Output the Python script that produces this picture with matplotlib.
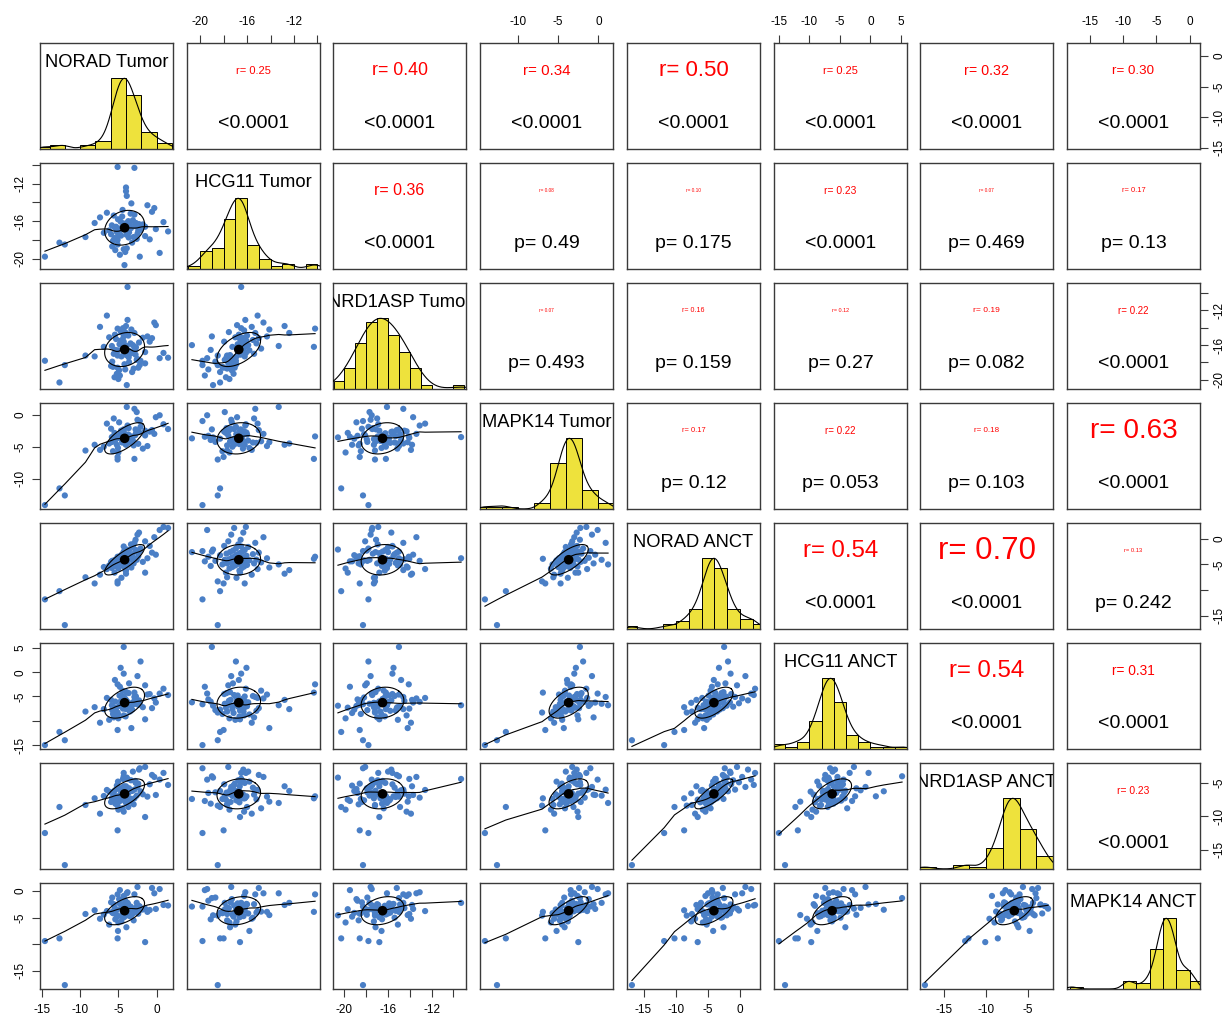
import numpy as np
import matplotlib
matplotlib.use("Agg")
import matplotlib.pyplot as plt

plt.rcParams['font.family'] = ['Liberation Sans', 'DejaVu Sans']

# ---------------- data ----------------
names = ["NORAD Tumor", "HCG11 Tumor", "NRD1ASP Tumor", "MAPK14 Tumor",
         "NORAD ANCT", "HCG11 ANCT", "NRD1ASP ANCT", "MAPK14 ANCT"]

norad_tumor = [-14.6, -12.7, -12.0, -9.3, -8.1, -3.8, -4.3, -4.3, -5.1, -2.9, -4.0, -4.0, -3.9, -4.2, -5.1, -1.5,
               -5.1, -4.6, -7.4, -5.5, -4.05, -6.5, -5.0, -5.85, -3.3, -6.9, -4.3, -5.4, -6.2, -3.7, -5.7, -4.85,
               -5.6, -3.0, -5.3, -4.45, -5.95, -1.8, -4.8, -5.2, -3.8, -5.8, -4.2, -5.05, -2.6, -5.45, -3.4, -4.65,
               -4.4, -1.2, -4.9, -3.5, -4.1, -2.4, -4.7, -3.2, -0.1, -4.5, -3.65, -4.25, -0.6, -3.95, -2.8, -2.2,
               -3.6, -2.7, -3.9, -2.1, -3.1, -0.9, -3.35, -2.9, -1.5, -2.75, -0.3, -2.5, -2.3, 0.4, 1.5, 0.9]
hcg11_tumor = [-19.8, -18.3, -18.5, -17.7, -16.2, -16.5, -19.0, -16.5, -10.2, -10.3, -12.4, -12.8, -13.3, -20.7, -18.0, -16.6,
               -18.5, -16.9, -15.6, -17.8, -16.65, -15.1, -17.5, -16.45, -14.1, -17.25, -16.25, -19.1, -17.0, -16.0, -18.1, -16.8,
               -15.4, -17.7, -16.6, -14.8, -17.4, -16.35, -19.6, -17.15, -16.15, -18.7, -16.92, -15.8, -17.9, -16.7, -15.2, -17.55,
               -16.5, -14.3, -17.3, -16.3, -19.3, -17.05, -16.05, -18.3, -16.85, -15.5, -17.75, -16.62, -15.0, -17.45, -16.4, -19.8,
               -17.2, -16.2, -18.9, -16.95, -15.9, -17.95, -16.75, -15.3, -17.6, -16.55, -14.6, -17.35, -16.32, -19.4, -17.1, -16.1]
nrd1asp_tumor = [-17.8, -20.3, -18.3, -17.2, -17.3, -9.3, -15.0, -15.6, -14.1, -16.2, -14.6, -13.8, -16.1, -16.0, -18.6, -16.8,
                 -17.2, -17.3, -13.9, -19.7, -16.3, -12.6, -19.9, -16.1, -14.2, -16.2, -14.3, -16.55, -15.1, -14.9, -18.5, -15.9,
                 -17.0, -18.7, -15.3, -16.4, -18.4, -15.15, -19.5, -19.3, -13.1, -17.9, -18.2, -16.6, -17.7, -14.8, -15.8, -14.5,
                 -14.05, -15.0, -18.9, -16.7, -18.8, -18.6, -15.5, -19.1, -13.7, -15.4, -17.4, -16.8, -15.2, -17.15, -16.5, -18.3,
                 -17.95, -16.25, -20.6, -17.8, -16.0, -15.6, -16.95, -14.6, -18.1, -17.1, -13.4, -17.6, -15.7, -17.5, -17.45, -16.9]
mapk14_tumor = [-14.1, -11.5, -12.6, -5.6, -4.7, -3.5, -2.3, -3.0, -3.4, -6.9, -4.5, -4.7, 1.2, -3.7, -6.6, -2.5,
                -7.0, -3.8, -5.5, -2.85, -4.6, -1.4, -5.9, -3.5, -4.3, -5.0, -2.6, -3.95, -4.5, -3.1, -5.7, -3.65,
                -0.6, -4.8, -3.35, -4.15, -2.2, -5.3, -3.45, -4.7, -1.7, -4.25, -3.05, -5.2, 0.4, -3.9, -4.4, -2.5,
                -3.6, -4.9, -1.2, -4.1, -3.3, -4.55, -2.8, -3.75, -0.4, -4.35, -2.1, -3.7, -2.4, -4.2, -3.2, -1.0,
                -3.85, -2.9, -3.55, -1.9, -4.05, -2.65, -3.4, 0.9, -3.25, -2.3, -3.0, -0.8, -2.7, -0.1, -2.25, -1.5]
norad_anct = [-11.8, -10.2, -16.8, -7.5, -8.7, -3.8, -2.5, -1.5, -3.5, -3.9, -6.1, -6.8, -5.0, -2.6, -8.7, -6.6,
              -8.3, -7.6, -7.0, -6.6, -6.2, -5.9, -5.8, -5.7, -5.6, -5.5, -5.4, -5.3, -5.2, -5.1, -5.0, -4.9,
              -4.8, -4.8, -4.7, -4.6, -4.5, -4.5, -4.4, -4.4, -4.3, -4.3, -4.2, -4.2, -4.1, -4.1, -4.05, -4.0,
              -3.9, -3.8, -3.7, -3.6, -3.5, -3.4, -3.3, -3.2, -3.1, -3.0, -2.9, -2.8, -2.7, -2.6, -2.5, -2.4,
              -2.3, -2.2, -2.1, -1.9, -1.6, -1.4, -1.1, -0.8, -0.5, -0.2, 0.3, 0.8, 1.2, 1.7, 2.1, 2.3]
hcg11_anct = [-15.0, -12.3, -14.0, -8.1, -7.2, -6.8, 5.2, -0.3, -2.5, -4.2, -7.6, -5.7, -6.8, -6.2, -11.9, -9.7,
              -8.3, -6.3, -10.4, -7.3, -9.1, -5.3, -9.5, -6.8, -11.5, -7.6, -8.9, -6.05, -9.8, -7.0, -8.6, -4.8,
              -9.3, -6.55, -7.9, -3.8, -5.7, -7.2, -3.0, -8.4, -6.1, -7.8, -5.2, -8.7, -6.5, -1.6, -7.95, -5.9,
              -7.5, -4.6, -6.95, -8.1, -5.6, -6.7, 0.9, -7.7, -6.25, -4.9, -4.3, -6.0, -7.4, -4.1, -5.5, -6.6,
              -2.3, -5.0, -6.9, 2.2, -6.2, -4.5, -7.1, -5.1, -2.7, -6.4, -5.4, -0.8, -5.8, -4.4, -4.7, -3.4]
nrd1asp_anct = [-12.5, -8.6, -17.3, -8.3, -7.3, -4.4, -4.0, -3.5, -7.0, -7.3, -6.2, -5.5, -8.0, -7.4, -12.1, -10.1,
                -8.4, -6.55, -9.6, -7.5, -7.9, -6.05, -9.0, -7.25, -7.8, -6.95, -9.3, -8.1, -6.3, -8.6, -7.4, -7.65,
                -6.75, -8.2, -7.1, -8.8, -7.85, -6.7, -7.7, -5.4, -7.2, -6.4, -7.6, -4.8, -6.9, -6.1, -7.45, -6.6,
                -4.4, -7.05, -5.9, -7.3, -6.5, -5.1, -7.0, -6.2, -6.8, -5.7, -6.45, -5.5, -3.8, -6.15, -4.7, -2.8,
                -5.8, -5.0, -4.2, -6.25, -3.3, -5.2, -4.6, -6.0, -2.6, -4.9, -4.1, -5.6, -3.0, -4.5, -5.3, -3.5]
mapk14_anct = [-9.4, -8.9, -17.7, -4.3, -3.6, -2.2, -1.3, -2.5, -0.6, -3.9, -2.2, -2.6, -0.4, -2.9, -8.9, -9.6,
               -4.6, -5.7, -5.2, -3.4, -2.75, -3.75, -5.9, -3.95, -4.5, -4.4, -0.9, -5.3, -6.3, -2.5, -4.15, -2.3,
               -2.45, -5.5, -3.7, -3.85, -2.1, -3.45, 0.2, -4.8, -0.2, -1.2, -3.8, -7.5, -2.2, -3.15, -4.05, -3.2,
               -4.3, -3.9, -1.5, -4.7, -1.8, -4.25, -2.4, -4.1, -3.35, -5.0, -3.0, -4.9, 0.6, -6.8, -3.6, -2.9,
               -4.45, -3.1, -4.55, -3.5, -4.2, -3.55, -2.95, -0.6, -3.3, -3.65, -0.4, 0.8, -2.8, 0.4, -2.7, -2.6]

# upper-triangle texts, row-major order (i < j)
r_upper = [0.25, 0.40, 0.34, 0.50, 0.25, 0.32, 0.30,
           0.36, 0.08, 0.10, 0.23, 0.07, 0.17,
           0.07, 0.16, 0.12, 0.19, 0.22,
           0.17, 0.22, 0.18, 0.63,
           0.54, 0.70, 0.13,
           0.54, 0.31,
           0.23]
p_upper = ["<0.0001", "<0.0001", "<0.0001", "<0.0001", "<0.0001", "<0.0001", "<0.0001",
           "<0.0001", "p= 0.49", "p= 0.175", "<0.0001", "p= 0.469", "p= 0.13",
           "p= 0.493", "p= 0.159", "p= 0.27", "p= 0.082", "<0.0001",
           "p= 0.12", "p= 0.053", "p= 0.103", "<0.0001",
           "<0.0001", "<0.0001", "p= 0.242",
           "<0.0001", "<0.0001",
           "<0.0001"]

tick_values = [[-15, -10, -5, 0], [-20, -18, -16, -14, -12, -10], [-20, -18, -16, -14, -12, -10],
               [-10, -5, 0], [-15, -10, -5, 0], [-15, -10, -5, 0, 5], [-15, -10, -5], [-15, -10, -5, 0]]
xtick_text = [["-15", "-10", "-5", "0"], ["-20", "", "-16", "", "-12", ""], ["-20", "", "-16", "", "-12", ""],
              ["-10", "-5", "0"], ["-15", "-10", "-5", "0"], ["-15", "-10", "-5", "0", "5"],
              ["-15", "-10", "-5"], ["-15", "-10", "-5", "0"]]
ytick_text = [["-15", "-10", "-5", "0"], ["-20", "", "-16", "", "-12", ""], ["-20", "", "-16", "", "-12", ""],
              ["-10", "-5", "0"], ["-15", "", "-5", "0"], ["-15", "", "-5", "0", "5"],
              ["-15", "-10", "-5"], ["-15", "", "-5", "0"]]
bin_width = [2, 1, 1, 2, 2, 2, 2, 2]

# ---------------- helpers ----------------
def lowess(x, y, f=2/3, iters=3):
    o = np.argsort(x, kind="mergesort")
    x = x[o]; y = y[o]
    n = len(x)
    ns = max(min(int(np.ceil(f * n)), n), 2)
    rob = np.ones(n)
    fit = np.zeros(n)
    for it in range(iters + 1):
        for i in range(n):
            d = np.abs(x - x[i])
            h = max(np.sort(d)[ns - 1], 1e-12)
            u = np.clip(d / h, 0, 1)
            w = (1 - u ** 3) ** 3 * rob
            w[d > 0.999 * h] = 0
            sw = w.sum()
            if sw <= 0:
                fit[i] = y[i]; continue
            xm = (w * x).sum() / sw
            ym = (w * y).sum() / sw
            sxx = (w * (x - xm) ** 2).sum()
            if sxx > 1e-9:
                b = (w * (x - xm) * (y - ym)).sum() / sxx
                fit[i] = ym + b * (x[i] - xm)
            else:
                fit[i] = ym
        if it == iters:
            break
        res = y - fit
        s = np.median(np.abs(res))
        if s < 1e-12:
            break
        u = np.clip(res / (6 * s), -1, 1)
        rob = (1 - u ** 2) ** 2
    return x, fit

def kde_curve(v):
    q75, q25 = np.percentile(v, [75, 25])
    h = min(v.std(ddof=1), (q75 - q25) / 1.34)
    bw = 1.06 * h * len(v) ** (-0.2) * 1.2
    grid = np.linspace(v.min() - 3 * bw, v.max() + 3 * bw, 512)
    dens = np.exp(-0.5 * ((grid[:, None] - v[None, :]) / bw) ** 2).sum(axis=1)
    return grid, dens / dens.max()

# ---------------- figure ----------------
FW, FH = 1224, 1018
fig = plt.figure(figsize=(FW / 100, FH / 100), dpi=100)
fig.patch.set_facecolor("white")
col_x = [40, 187, 333, 480, 627, 774, 920, 1067]
row_y = [43, 163, 283, 403, 523, 643, 763, 883]
PW, PH = 133, 106

variables = [np.array(v, float) for v in (norad_tumor, hcg11_tumor, nrd1asp_tumor, mapk14_tumor,
                                          norad_anct, hcg11_anct, nrd1asp_anct, mapk14_anct)]
for v in variables:
    assert len(v) == 80, len(v)
nv = len(variables)
lims = []
for v in variables:
    lo, hi = v.min(), v.max()
    pad = 0.04 * (hi - lo)
    lims.append((lo - pad, hi + pad))

PT_COLOR = "#4a7fc6"
BAR_COLOR = "#eee23c"
FRAME = "#3a3a3a"
TICK_FS = 8.5

upper_iter = iter(zip(r_upper, p_upper))
upper_map = {}
for i in range(nv):
    for j in range(i + 1, nv):
        upper_map[(i, j)] = next(upper_iter)

for i in range(nv):
    for j in range(nv):
        ax = fig.add_axes([col_x[j] / FW, 1 - (row_y[i] + PH) / FH, PW / FW, PH / FH])
        for sp in ax.spines.values():
            sp.set_color(FRAME)
            sp.set_linewidth(1.0)
        ax.set_xticks([]); ax.set_yticks([])
        if i == j:
            v = variables[i]
            w = bin_width[i]
            lo = np.floor(v.min() / w) * w
            hi = np.ceil(v.max() / w) * w
            breaks = np.arange(lo, hi + w / 2, w)
            idx = np.searchsorted(breaks, v, side="left") - 1
            idx = np.clip(idx, 0, len(breaks) - 2)
            counts = np.bincount(idx, minlength=len(breaks) - 1)
            heights = counts / counts.max()
            ax.bar(breaks[:-1], heights, width=w, align="edge", color=BAR_COLOR,
                   edgecolor="black", linewidth=0.7, zorder=2)
            gx, gy = kde_curve(v)
            ax.plot(gx, gy, color="black", lw=0.8, zorder=3)
            ax.set_xlim(*lims[i]); ax.set_ylim(0, 1.5)
            t = ax.text(0.5, 0.82, names[i], transform=ax.transAxes, ha="center", va="center",
                        fontsize=13.2, color="black", zorder=4)
            t.set_clip_on(True)
            t.set_clip_path(ax.patch)
        elif i > j:
            x = variables[j]; y = variables[i]
            ax.set_xlim(*lims[j]); ax.set_ylim(*lims[i])
            ax.scatter(x, y, s=20, color=PT_COLOR, edgecolors="none", zorder=2)
            lx, ly = lowess(x, y)
            ax.plot(lx, ly, color="black", lw=0.8, zorder=3)
            r = np.corrcoef(x, y)[0, 1]
            xm, ym = x.mean(), y.mean()
            xs, ys = x.std(ddof=1), y.std(ddof=1)
            th = np.sign(r) / np.sqrt(2) if r != 0 else 1 / np.sqrt(2)
            ang = np.linspace(0, 2 * np.pi, 52)
            ex = np.cos(ang) * np.sqrt(1 + r) * th - np.sin(ang) * np.sqrt(1 - r) * th
            ey = np.cos(ang) * np.sqrt(1 + r) * th + np.sin(ang) * np.sqrt(1 - r) * th
            ax.plot(ex * xs + xm, ey * ys + ym, color="black", lw=0.8, zorder=3)
            ax.scatter([xm], [ym], s=48, color="black", edgecolors="none", zorder=4)
        else:
            ax.set_xlim(*lims[j]); ax.set_ylim(*lims[i])
            rv, pv = upper_map[(i, j)]
            ax.text(0.5, 0.74, "r= %.2f" % rv, transform=ax.transAxes, ha="center", va="center",
                    fontsize=max(32 * rv, 3.4), color="red")
            ax.text(0.5, 0.245, pv, transform=ax.transAxes, ha="center", va="center",
                    fontsize=14, color="black")

        # outer axes in R pairs style
        if i == nv - 1 and j % 2 == 0:
            ax.set_xticks(tick_values[j]); ax.set_xticklabels(xtick_text[j])
            ax.tick_params(axis="x", bottom=True, labelbottom=True, length=6, width=0.8,
                           pad=5, labelsize=TICK_FS, color=FRAME)
        if i == 0 and j % 2 == 1:
            ax.set_xticks(tick_values[j]); ax.set_xticklabels(xtick_text[j])
            ax.tick_params(axis="x", top=True, labeltop=True, bottom=False, labelbottom=False,
                           length=6, width=0.8, pad=5, labelsize=TICK_FS, color=FRAME)
        if j == 0 and i % 2 == 1:
            ax.set_yticks(tick_values[i]); ax.set_yticklabels(ytick_text[i], rotation=90, va="center")
            ax.tick_params(axis="y", left=True, labelleft=True, length=6, width=0.8,
                           pad=4, labelsize=TICK_FS, color=FRAME)
        if j == nv - 1 and i % 2 == 0:
            ax.set_yticks(tick_values[i]); ax.set_yticklabels(ytick_text[i], rotation=90, va="center")
            ax.tick_params(axis="y", right=True, labelright=True, left=False, labelleft=False,
                           length=6, width=0.8, pad=4, labelsize=TICK_FS, color=FRAME)
        if i == j:
            ax.set_ylim(0, 1.5)

fig.savefig("out.png", dpi=100, facecolor="white")
